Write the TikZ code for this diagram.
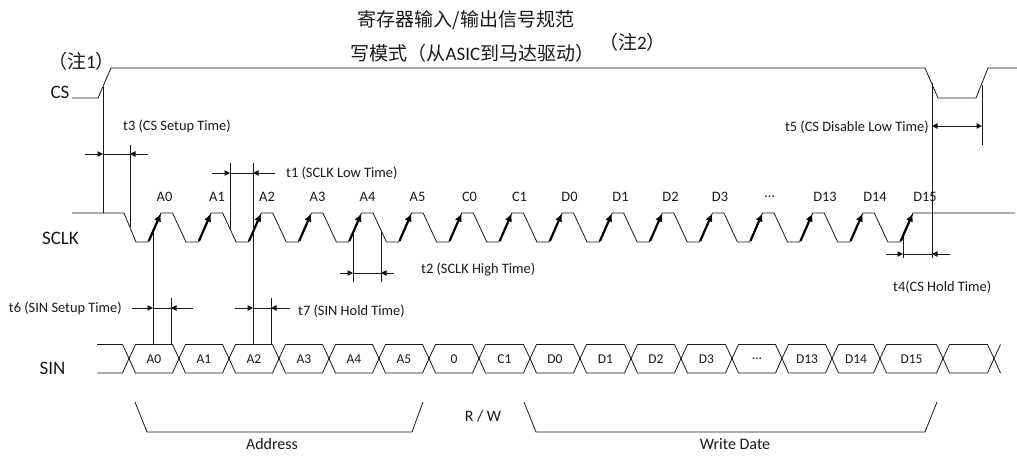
\documentclass[tikz,border=0pt]{standalone}
\usepackage{fontspec}
\setmainfont{Carlito}
\newfontfamily\cjk{Noto Sans CJK SC}
\usetikzlibrary{arrows.meta}
\begin{document}
\begin{tikzpicture}[x=1pt,y=-1pt,
  sig/.style={line width=0.8pt, line join=miter, draw=black!90},
  dim/.style={line width=0.7pt, draw=black!90},
  tip/.style={-{Triangle[length=5.5pt,width=5.5pt]}},
  edgearrow/.style={line width=2.2pt, draw=black, -{Latex[length=8pt,width=7.5pt]}},
  lbl/.style={font=\fontsize{14.4}{16}\selectfont, inner sep=0pt, text=black!90},
  siglbl/.style={font=\fontsize{19}{22}\selectfont, inner sep=0pt, text=black!90},
  buslbl/.style={font=\fontsize{13.5}{15}\selectfont, inner sep=0pt, text=black!90},
  brlbl/.style={font=\fontsize{16}{18}\selectfont, inner sep=0pt, text=black!90},
  titlbl/.style={font=\fontsize{19}{21}\selectfont, inner sep=0pt, text=black!90}
]
\useasboundingbox (0,0) rectangle (1017,456);

% titles
\node[titlbl] (title1) at (466,20) {\cjk 寄存器输入/输出信号规范};
\node[titlbl] (title2) at (472.5,53) {{\cjk 写模式（从}ASIC{\cjk 到马达驱动）}};
\node[titlbl] (note2) at (632.5,42) {{\cjk （注}2{\cjk ）}};
\node[titlbl] (note1) at (81.5,61) {{\cjk （注}1{\cjk ）}};

% signal names
\node[siglbl] (cs) at (60,92) {CS};
\node[siglbl] (sclk) at (60.5,238) {SCLK};
\node[siglbl] (sin) at (52.5,368) {SIN};

% CS waveform
\draw[sig] (72,98) -- (98,98) -- (111,68) -- (925,68) -- (938,98) -- (976,98) -- (988,68) -- (1017,68);

% SCLK waveform
\draw[sig] (72,213) -- (124,213) -- (136,242) -- (148,242)
  \foreach \i in {0,...,14}{ -- ({148+\i*50.13+13},213) -- ({148+\i*50.13+24.5},213) -- ({148+\i*50.13+38},242) -- ({148+\i*50.13+50.13},242) }
  -- (913,213) -- (1015,213);
\foreach \i in {0,...,15}
  \draw[edgearrow] ({148+\i*50.13+0.8},241) -- ({148+\i*50.13+12.8},213.5);

% SCLK bit labels
\foreach \x/\t [count=\k] in {164.5/A0,217/A1,267/A2,317.5/A3,367.5/A4,417.5/A5,469.5/C0,519.5/C1,569.5/D0,620.5/D1,670.5/D2,720/D3,769.5/\dots,825/D13,875/D14,925/D15}
  \node[lbl] (ck\k) at (\x,197) {\t};

% SIN bus
\draw[sig] (97,344.5) -- (122.5,344.5) -- (129,358.5) -- (122.5,373) -- (97,373);
\foreach \a/\b/\t [count=\k] in {129/179/A0,179/229/A1,229/279/A2,279/329/A3,329/379/A4,379/429/A5,429/479/0,479/530/C1,530/580/D0,580/631/D1,631/681/D2,681/732/D3,732/782/\dots,782/832/D13,832/880/D14,880/943/D15}{
  \draw[sig] (\a,358.5) -- ({\a+6.5},344.5) -- ({\b-6.5},344.5) -- (\b,358.5) -- ({\b-6.5},373) -- ({\a+6.5},373) -- cycle;
  \node[buslbl] (bit\k) at ({(\a+\b)/2},359) {\t};
}
\draw[sig] (943,358.5) -- (949.5,344.5) -- (987.5,344.5) -- (994,358.5) -- (987.5,373) -- (949.5,373) -- cycle;
\draw[sig] (1000.5,344.5) -- (994,358.5) -- (1000.5,373);

% vertical reference lines
\draw[dim] (103,87) -- (103,213);
\draw[dim] (130,145) -- (130,227);
\draw[dim] (230,163) -- (230,230);
\draw[dim] (253,163) -- (253,344.5);
\draw[dim] (153,233) -- (153,344.5);
\draw[dim] (171,298) -- (171,344.5);
\draw[dim] (271,298) -- (271,344.5);
\draw[dim] (353,231) -- (353,282);
\draw[dim] (381,231) -- (381,282);
\draw[dim] (903,237) -- (903,258);
\draw[dim] (932,83) -- (932,258);
\draw[dim] (982,85) -- (982,145);

% t3
\coordinate (t3a) at (103,154); \coordinate (t3b) at (130,154);
\draw[dim,tip] (85,154) -- (t3a); \draw[dim] (t3a) -- (t3b); \draw[dim,tip] (148,154) -- (t3b);
\node[lbl, anchor=west] (t3) at (123,126) {t3 (CS Setup Time)};
% t1
\coordinate (t1a) at (230,173); \coordinate (t1b) at (253,173);
\draw[dim,tip] (212,173) -- (t1a); \draw[dim] (t1a) -- (t1b); \draw[dim,tip] (275,173) -- (t1b);
\node[lbl, anchor=west] (t1) at (286,173) {t1 (SCLK Low Time)};
% t2
\coordinate (t2a) at (353,273); \coordinate (t2b) at (381,273);
\draw[dim,tip] (340,273) -- (t2a); \draw[dim] (t2a) -- (t2b); \draw[dim,tip] (394,273) -- (t2b);
\node[lbl, anchor=west] (t2) at (421,269) {t2 (SCLK High Time)};
% t6
\coordinate (t6a) at (153,308); \coordinate (t6b) at (171,308);
\draw[dim,tip] (132,308) -- (t6a); \draw[dim] (t6a) -- (t6b); \draw[dim,tip] (193,308) -- (t6b);
\node[lbl, anchor=east] (t6) at (122,308) {t6 (SIN Setup Time)};
% t7
\coordinate (t7a) at (253,308); \coordinate (t7b) at (271,308);
\draw[dim,tip] (235,308) -- (t7a); \draw[dim] (t7a) -- (t7b); \draw[dim,tip] (290,308) -- (t7b);
\node[lbl, anchor=west] (t7) at (298,311) {t7 (SIN Hold Time)};
% t4
\coordinate (t4a) at (903,254); \coordinate (t4b) at (932,254);
\draw[dim,tip] (886,254) -- (t4a); \draw[dim] (t4a) -- (t4b); \draw[dim,tip] (950,254) -- (t4b);
\node[lbl, anchor=west] (t4) at (893,287) {t4(CS Hold Time)};
% t5
\coordinate (t5a) at (932,126); \coordinate (t5b) at (982,126);
\draw[dim,{Triangle[length=5.5pt,width=5.5pt]}-{Triangle[length=5.5pt,width=5.5pt]}] (t5a) -- (t5b);
\node[lbl, anchor=east] (t5) at (929,127) {t5 (CS Disable Low Time)};

% brackets
\draw[sig] (135,402) -- (147,432) -- (412,432) -- (423,402);
\node[brlbl] (addr) at (272,444) {Address};
\node[brlbl] (rw) at (483,416) {R / W};
\draw[sig] (524,402) -- (536,432) -- (925,432) -- (937,402);
\node[brlbl] (wd) at (735,444) {Write Date};
\end{tikzpicture}
\end{document}
